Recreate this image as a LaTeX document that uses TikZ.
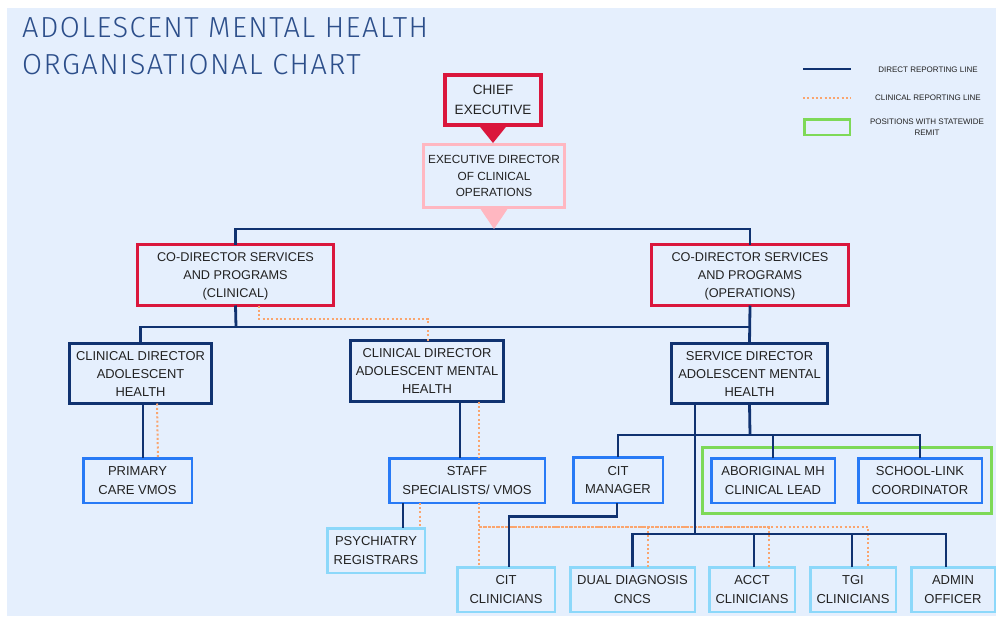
\documentclass[tikz,border=0pt]{standalone}
\usepackage{fontspec}
\setmainfont{Liberation Sans}
\newfontfamily\titlefont{Fira Sans Light}[LetterSpace=5]
\usetikzlibrary{calc}

\definecolor{navy}{RGB}{16,50,112}
\definecolor{crim}{RGB}{218,22,60}
\definecolor{pinkc}{RGB}{255,183,193}
\definecolor{bblue}{RGB}{40,122,246}
\definecolor{cyanc}{RGB}{140,216,250}
\definecolor{greenc}{RGB}{126,217,87}
\definecolor{orangec}{RGB}{250,165,110}
\definecolor{panel}{RGB}{229,239,253}
\definecolor{txt}{RGB}{34,34,34}
\definecolor{titlec}{RGB}{44,78,138}

\tikzset{
  box/.style={draw, rectangle, inner sep=0pt, outer sep=0pt, align=center, text=txt, text depth=0pt},
  wh/.style 2 args={minimum width=#1pt, minimum height=#2pt},
  redbox/.style={box, draw=crim, line width=3pt, font=\fontsize{12.7}{18}\selectfont},
  pinkbox/.style={box, draw=pinkc, line width=3pt, font=\fontsize{11.8}{16.7}\selectfont},
  navybox/.style={box, draw=navy, line width=3pt, font=\fontsize{12.9}{18}\selectfont},
  bluebox/.style={box, draw=bblue, line width=2.5pt, font=\fontsize{13}{18.3}\selectfont},
  cyanbox/.style={box, draw=cyanc, line width=2.5pt, font=\fontsize{13}{18.3}\selectfont},
  remitbox/.style={draw=greenc, line width=3pt, rectangle, inner sep=0pt, outer sep=0pt},
  dirline/.style={draw=navy, line width=2.8pt},
  clinline/.style={draw=orangec, line width=2pt, dash pattern=on 2pt off 2.3pt},
  legtext/.style={text=txt, inner sep=0pt, align=center, font=\fontsize{8}{11}\selectfont},
  titletext/.style={anchor=base west, inner sep=0pt, text=titlec, font=\titlefont\fontsize{29}{34}\selectfont},
}

\begin{document}
\begin{tikzpicture}[x=1pt, y=-1pt]
  % page and panel
  \useasboundingbox (0,0) rectangle (996,616);
  \fill[white] (0,0) rectangle (996,616);
  \fill[panel] (7,8) rectangle (996,616);

  % title
  \node[titletext] (t1) at (22,37) {ADOLESCENT MENTAL HEALTH};
  \node[titletext] (t2) at (22,74) {ORGANISATIONAL CHART};

  % legend
  \coordinate (l1a) at (803,69);
  \coordinate (l1b) at (851,69);
  \draw[dirline, line width=2.5pt] (l1a) -- (l1b);
  \node[legtext] (l1t) at (928,70) {DIRECT REPORTING LINE};
  \coordinate (l2a) at (803,98);
  \coordinate (l2b) at (851,98);
  \draw[clinline] (l2a) -- (l2b);
  \node[legtext] (l2t) at (928,98) {CLINICAL REPORTING LINE};
  \node[remitbox, line width=2.5pt, wh={45.5}{15.5}] (l3) at (827,127) {};
  \node[legtext] (l3t) at (927,127.5) {POSITIONS WITH STATEWIDE\\REMIT};

  % top of the chart
  \node[redbox, line width=4pt, wh={96}{50}, font=\fontsize{13.5}{20}\selectfont] (ce) at (493,100) {CHIEF\\EXECUTIVE};
  \node[pinkbox, wh={141}{63}] (ed) at (494,176) {EXECUTIVE DIRECTOR\\OF CLINICAL\\OPERATIONS};
  \fill[crim] ([xshift=-14.5pt]ce.south) -- ([xshift=14.5pt]ce.south) -- ([yshift=-18pt]ce.south) -- cycle;
  \coordinate (edtip) at ([yshift=-21.5pt]ed.south);

  \node[redbox, wh={196}{61}] (cdc) at (235.5,275) {CO-DIRECTOR SERVICES\\AND PROGRAMS\\(CLINICAL)};
  \node[redbox, wh={197}{61}] (cdo) at (750,275) {CO-DIRECTOR SERVICES\\AND PROGRAMS\\(OPERATIONS)};

  \node[navybox, wh={142}{60}] (cah) at (140.5,373.5) {CLINICAL DIRECTOR\\ADOLESCENT\\HEALTH};
  \node[navybox, wh={153}{61}] (camh) at (427,371) {CLINICAL DIRECTOR\\ADOLESCENT MENTAL\\HEALTH};
  \node[navybox, wh={156}{60}] (sd) at (749.5,373.5) {SERVICE DIRECTOR\\ADOLESCENT MENTAL\\HEALTH};

  % second tier
  \node[bluebox, wh={108.5}{44.5}] (pcv) at (137.5,480.5) {PRIMARY\\CARE VMOS};
  \node[bluebox, wh={155.5}{44.5}] (ssv) at (467,480.5) {STAFF\\SPECIALISTS/ VMOS};
  \node[bluebox, wh={89.5}{45.5}] (citm) at (618,480) {CIT\\MANAGER};
  \node[remitbox, wh={289}{66}] (sw) at (847,480.5) {};
  \node[bluebox, wh={123.5}{44.5}] (amh) at (773,480.5) {ABORIGINAL MH\\CLINICAL LEAD};
  \node[bluebox, wh={123.5}{44.5}] (slc) at (920,480.5) {SCHOOL-LINK\\COORDINATOR};

  % clinicians
  \node[cyanbox, wh={97.5}{44.5}] (psy) at (376,550.5) {PSYCHIATRY\\REGISTRARS};
  \node[cyanbox, wh={97.5}{44.5}] (citc) at (506,589.5) {CIT\\CLINICIANS};
  \node[cyanbox, wh={124.5}{44.5}] (dd) at (632.5,589.5) {DUAL DIAGNOSIS\\CNCS};
  \node[cyanbox, wh={85.5}{44.5}] (acct) at (752,589.5) {ACCT\\CLINICIANS};
  \node[cyanbox, wh={85.5}{44.5}] (tgi) at (853,589.5) {TGI\\CLINICIANS};
  \node[cyanbox, wh={83.5}{44.5}] (admin) at (953,589.5) {ADMIN\\OFFICER};

  % clinical reporting lines
  \draw[clinline] ([xshift=23.5pt]cdc.south) -- ++(0,13.5) -| ([xshift=1pt]camh.north);
  \draw[clinline] ([xshift=16.5pt]cah.south) -- ([xshift=20.5pt]pcv.north);
  \draw[clinline] ([xshift=52pt]camh.south) -- ([xshift=12pt]ssv.north);
  \draw[clinline] ([xshift=-47pt]ssv.south) -- ([xshift=44pt]psy.north);
  \draw[clinline] ([xshift=12pt]ssv.south) -- ([xshift=-27pt]citc.north);
  \coordinate (cbus) at (479,527);
  \draw[clinline] (cbus) -| ([xshift=15pt]tgi.north);
  \draw[clinline] ([xshift=15.5pt]dd.north) |- (cbus);
  \draw[clinline] ([xshift=17pt]acct.north) |- (cbus);

  % direct reporting lines
  \draw[dirline] (cdc.north) |- (edtip) -| (cdo.north);
  \fill[pinkc] ([xshift=-14.5pt]ed.south) -- ([xshift=14.5pt]ed.south) -- (edtip) -- cycle;
  \coordinate (busL) at (236,327);
  \draw[dirline] (cdc.south) -- (busL);
  \draw[dirline] (cah.north) |- (busL) -- (busL -| sd.north);
  \draw[dirline] (cdo.south) -- (sd.north);
  \draw[dirline] ([xshift=2.5pt]cah.south) -- ([xshift=5.5pt]pcv.north);
  \draw[dirline] ([xshift=33pt]camh.south) -- ([xshift=-7pt]ssv.north);
  \draw[dirline] ([xshift=-64pt]ssv.south) -- ([xshift=27pt]psy.north);

  \coordinate (ubus) at (750,435);
  \draw[dirline] (sd.south) -- (ubus);
  \draw[dirline] (citm.north) |- (ubus) -| (slc.north);
  \draw[dirline] (amh.north) |- (ubus);

  \coordinate (lbus) at (695,534);
  \draw[dirline] ([xshift=-54.5pt]sd.south) -- (lbus);
  \draw[dirline] (dd.north) |- (lbus) -| ([xshift=-7pt]admin.north);
  \draw[dirline] ([xshift=2pt]acct.north) |- (lbus);
  \draw[dirline] ([xshift=-1pt]tgi.north) |- (lbus);
  \draw[dirline] ([xshift=-1pt]citm.south) -- ++(0,14) -| ([xshift=3pt]citc.north);
\end{tikzpicture}
\end{document}
